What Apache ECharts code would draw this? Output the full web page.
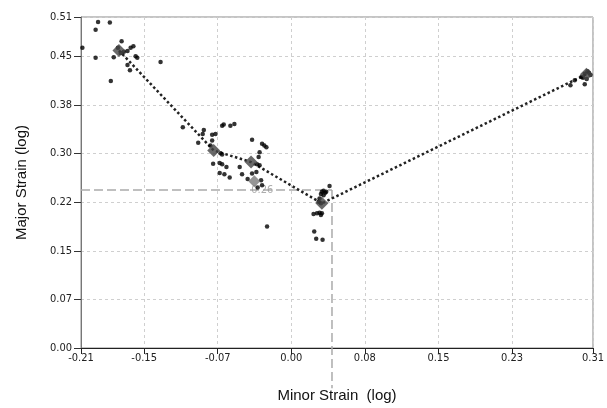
<!DOCTYPE html>
<html>
<head>
<meta charset="utf-8">
<script src="https://cdn.jsdelivr.net/npm/echarts@6/dist/echarts.min.js"></script>
<style>html,body{margin:0;padding:0;background:#fff;}#c{width:607px;height:408px;}</style>
</head>
<body>
<div id="c"></div>
<script>
// ---- axis ticks ----
const xMin = -0.2144, xMax = 0.3076;
const yMin = 0, yMax = 0.5106;
const xTickValues = [-0.2144, -0.15, -0.075, 0, 0.075, 0.15, 0.225, 0.3076];
const xTickLabels = ['-0.21', '-0.15', '-0.07', '0.00', '0.08', '0.15', '0.23', '0.31'];
const yTickValues = [0, 0.075, 0.15, 0.225, 0.3, 0.375, 0.45, 0.5106];
const yTickLabels = ['0.00', '0.07', '0.15', '0.22', '0.30', '0.38', '0.45', '0.51'];

// ---- measured points [minor, major] ----
const clusterTopLeft = [
  [-0.197, 0.503], [-0.185, 0.502], [-0.1995, 0.491], [-0.213, 0.463], [-0.173, 0.473],
  [-0.1707, 0.457], [-0.1638, 0.463], [-0.161, 0.4655], [-0.167, 0.458], [-0.181, 0.4487],
  [-0.1995, 0.4476], [-0.1587, 0.450], [-0.157, 0.4476], [-0.167, 0.4364], [-0.1645, 0.4283],
  [-0.184, 0.412], [-0.1333, 0.441], [-0.1768, 0.463], [-0.174, 0.455]
];
const clusterMiddle = [
  [-0.1106, 0.3404], [-0.0892, 0.3364], [-0.0903, 0.3303], [-0.0705, 0.343], [-0.0689, 0.3446],
  [-0.0621, 0.343], [-0.058, 0.3456], [-0.0807, 0.3288], [-0.0773, 0.3303], [-0.0807, 0.320],
  [-0.0949, 0.3165], [-0.0824, 0.3124], [-0.0722, 0.3006], [-0.0705, 0.2986], [-0.0797, 0.2844],
  [-0.073, 0.2853], [-0.0705, 0.2833], [-0.073, 0.270], [-0.0682, 0.268], [-0.0628, 0.263],
  [-0.0661, 0.2792], [-0.0526, 0.2792], [-0.040, 0.3211], [-0.0298, 0.315], [-0.0275, 0.3124],
  [-0.0254, 0.3098], [-0.0323, 0.3021], [-0.0333, 0.2945], [-0.0349, 0.2833], [-0.0323, 0.2818],
  [-0.0356, 0.2715], [-0.040, 0.269], [-0.0502, 0.268], [-0.0445, 0.2608], [-0.0308, 0.2588],
  [-0.0298, 0.2511], [-0.0343, 0.2476], [-0.0247, 0.1873]
];
const clusterValley = [
  [0.039, 0.250], [0.0312, 0.2409], [0.0329, 0.2424], [0.0346, 0.2394], [0.0302, 0.2374],
  [0.0329, 0.2358], [0.0356, 0.2409], [0.0288, 0.2308], [0.0278, 0.2256], [0.0302, 0.2231],
  [0.0288, 0.2087], [0.0312, 0.2078], [0.0262, 0.2078], [0.0302, 0.2052], [0.0227, 0.2067],
  [0.0234, 0.1796], [0.0254, 0.1685], [0.0319, 0.1669]
];
const clusterRight = [
  [0.2974, 0.417], [0.3035, 0.4247], [0.305, 0.4211], [0.2992, 0.4231], [0.2958, 0.418],
  [0.2992, 0.4069], [0.289, 0.413], [0.2846, 0.4054], [0.302, 0.427], [0.3012, 0.415]
];
const meanPoints = [[-0.1757, 0.459], [-0.0791, 0.3047], [-0.041, 0.2868], [0.0312, 0.2231], [0.3009, 0.4222]];
const meanPointsGrey = [[-0.0377, 0.2573]];
const trendLine = [[-0.1757, 0.459], [-0.0791, 0.3047], [-0.041, 0.2868], [0.0312, 0.2231], [0.3009, 0.4222]];
const refH = [[-0.2144, 0.2437], [0.0415, 0.2437]];
const refV = [[0.0415, 0.2437], [0.0415, -0.062]];
const refLabelPos = [[-0.0296, 0.2437]];
const refLabelText = '0.26';

function labelFor(values, labels) {
  return function (v) {
    let best = 0, d = Infinity;
    values.forEach((t, i) => { const dd = Math.abs(t - v); if (dd < d) { d = dd; best = i; } });
    return labels[best];
  };
}

const tickFont = "'Liberation Sans Narrow', 'DejaVu Sans Condensed', sans-serif";
const chart = echarts.init(document.getElementById('c'), null, { renderer: 'canvas' });
chart.setOption({
  animation: false,
  backgroundColor: '#fff',
  grid: { left: 81, right: 14, top: 17, bottom: 59, show: true, borderColor: '#8a8a8a', borderWidth: 1, backgroundColor: 'transparent' },
  xAxis: {
    type: 'value', min: xMin, max: xMax,
    name: 'Minor Strain  (log)', nameLocation: 'middle', nameGap: 40,
    nameTextStyle: { fontFamily: "'Liberation Sans', Arial, sans-serif", fontSize: 15, color: '#111' },
    axisLine: { show: true, onZero: false, lineStyle: { color: '#222', width: 1 } },
    axisTick: { show: true, length: 6, customValues: xTickValues, lineStyle: { color: '#222' } },
    axisLabel: { customValues: xTickValues, formatter: labelFor(xTickValues, xTickLabels), margin: 5, fontFamily: tickFont, fontSize: 11, color: '#222' },
    splitLine: { show: true, lineStyle: { color: '#cfcfcf', type: [3, 3], width: 1 } }
  },
  yAxis: {
    type: 'value', min: yMin, max: yMax,
    name: 'Major Strain (log)', nameLocation: 'middle', nameGap: 52,
    nameTextStyle: { fontFamily: "'Liberation Sans', Arial, sans-serif", fontSize: 15, color: '#111' },
    axisLine: { show: true, onZero: false, lineStyle: { color: '#777', width: 1 } },
    axisTick: { show: true, length: 7, customValues: yTickValues, lineStyle: { color: '#333' } },
    axisLabel: { customValues: yTickValues, formatter: labelFor(yTickValues, yTickLabels), margin: 9, fontFamily: tickFont, fontSize: 11, color: '#222' },
    splitLine: { show: true, lineStyle: { color: '#cfcfcf', type: [3, 3], width: 1 } }
  },
  series: [
    { type: 'line', data: refH, symbol: 'none', silent: true, lineStyle: { color: '#aaa', width: 1.5, type: [9, 4] }, z: 1 },
    { type: 'line', data: refV, symbol: 'none', silent: true, clip: false, lineStyle: { color: '#aaa', width: 1.5, type: [9, 4] }, z: 1 },
    { type: 'scatter', data: refLabelPos, symbolSize: 0, silent: true, z: 2,
      label: { show: true, position: 'inside', formatter: refLabelText, color: '#999', fontSize: 11, fontFamily: tickFont } },
    { type: 'line', data: trendLine, symbol: 'none', silent: true, lineStyle: { color: '#222', width: 2.5, type: [2.5, 2.5] }, z: 3 },
    { type: 'scatter', data: clusterTopLeft.concat(clusterMiddle, clusterValley, clusterRight), symbol: 'circle', symbolSize: 4.5, itemStyle: { color: '#000' }, z: 4 },
    { type: 'scatter', data: meanPointsGrey, symbol: 'diamond', symbolSize: 12, itemStyle: { color: '#7a7a7a' }, z: 5 },
    { type: 'scatter', data: meanPoints, symbol: 'diamond', symbolSize: 13, itemStyle: { color: '#444' }, z: 5 }
  ]
});
</script>
</body>
</html>
